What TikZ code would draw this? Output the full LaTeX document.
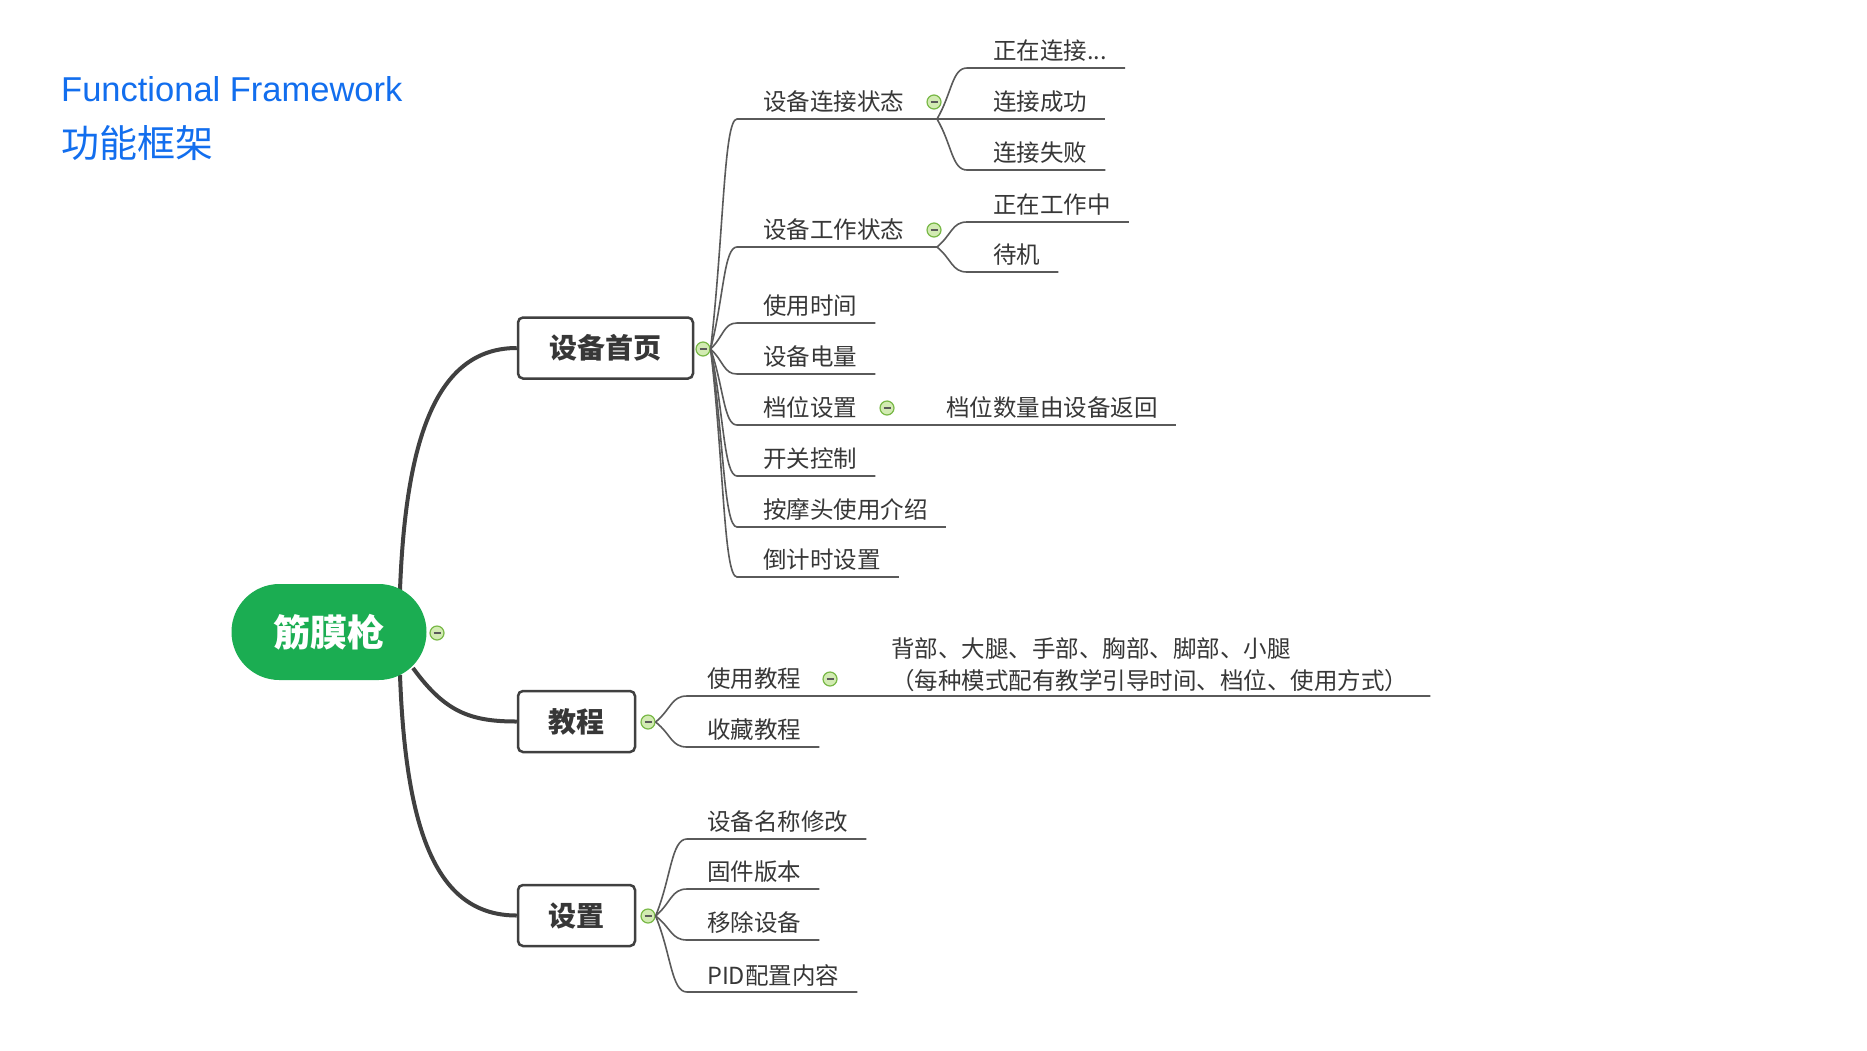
\documentclass[tikz,border=0pt]{standalone}
\usepackage{fontspec}
\setmainfont{Noto Sans CJK SC}
\newfontfamily\latinfont{Liberation Sans}
\usetikzlibrary{calc}
\definecolor{titleblue}{RGB}{18,110,238}
\definecolor{rootgreen}{RGB}{27,173,82}
\definecolor{txt}{RGB}{55,55,55}
\definecolor{boxline}{RGB}{64,64,64}
\definecolor{lnk}{RGB}{90,90,90}
\definecolor{cfill}{RGB}{210,235,178}
\definecolor{cdraw}{RGB}{120,184,70}
\tikzset{
  rootnode/.style={rectangle, rounded corners=47.9pt, fill=rootgreen, minimum width=195pt, minimum height=96pt, inner sep=0pt, text=white, font=\fontsize{37}{42}\selectfont\bfseries},
  topic/.style={rectangle, draw=boxline, line width=2.5pt, rounded corners=5pt, fill=white, minimum height=61pt, inner sep=0pt, text=txt, font=\fontsize{28}{32}\selectfont\bfseries},
  leaf/.style={anchor=west, inner sep=0pt, text=txt, font=\fontsize{23.5}{28}\selectfont},
  note/.style={anchor=west, inner sep=0pt, text=txt, align=left, font=\fontsize{23.5}{32}\selectfont},
  uline/.style={draw=lnk, line width=1.6pt},
  trunk/.style={draw=boxline, line width=4pt},
  branch/.style={to path={let \p1=(\tikztostart), \p2=(\tikztotarget) in .. controls ({0.5*\x1+0.5*\x2},{0.5*\y1+0.5*\y2}) and ({0.5*\x1+0.5*\x2},\y2) .. (\tikztotarget)}},
  fold/.style={circle, draw=cdraw, fill=cfill, line width=1.2pt, minimum size=14pt, inner sep=0pt,
    path picture={\draw[draw=lnk, line width=1.3pt] ([xshift=-3.5pt]path picture bounding box.center) -- ([xshift=3.5pt]path picture bounding box.center);}},
}
\begin{document}
\begin{tikzpicture}[x=1pt,y=-1pt]
\fill[white] (0,0) rectangle (1867,1050);
\useasboundingbox (0,0) rectangle (1867,1050);

% title
\node[anchor=base west, inner sep=0pt, text=titleblue, font=\latinfont\fontsize{34.5}{40}\selectfont] (ten) at (61,101) {Functional Framework};
\node[anchor=west, inner sep=0pt, text=titleblue, font=\fontsize{38}{44}\selectfont] (tcn) at (61,143) {功能框架};

% main topics
\coordinate (r1) at (400,590);
\coordinate (r2) at (413,668);
\coordinate (r3) at (400,675);
\node[topic, minimum width=175pt] (home) at (605.5,348) {设备首页};
\node[topic, minimum width=117pt] (tut) at (576.5,721.5) {教程};
\node[topic, minimum width=117pt] (set) at (576.5,915.5) {设置};
\draw[trunk] (r1) .. controls (406,430) and (440,348) .. (home.west);
\draw[trunk] (r2) .. controls (445,712) and (470,721.5) .. (tut.west);
\draw[trunk] (r3) .. controls (406,840) and (440,915.5) .. (set.west);
\node[rootnode] (root) at (329,632) {筋膜枪};

% fold markers
\node[fold] (f0) at (437,633) {};
\node[fold] (f1) at (703,349) {};
\node[fold] (f2) at (648,722) {};
\node[fold] (f3) at (648,916) {};
\node[fold] (f4) at (934,102) {};
\node[fold] (f5) at (934,230) {};
\node[fold] (f6) at (887,408) {};
\node[fold] (f7) at (830,679) {};

% ---- 设备首页 children
\node[leaf] (n1) at (763,102) {设备连接状态};
\coordinate (u1) at (737,119);
\coordinate (b3) at (937,119);
\draw[uline] (f1.east) to[branch] (u1) -- (b3);
\node[leaf] (m1) at (993,51) {正在连接...};
\node[leaf] (m2) at (993,102) {连接成功};
\node[leaf] (m3) at (993,153) {连接失败};
\coordinate (v1) at (967,68);
\coordinate (v3) at (967,170);
\draw[uline] (b3) to[branch] (v1) -- (v1 -| m1.east) -- ++(18,0);
\draw[uline] (b3) -- (b3 -| m2.east) -- ++(18,0);
\draw[uline] (b3) to[branch] (v3) -- (v3 -| m3.east) -- ++(18,0);

\node[leaf] (n2) at (763,230) {设备工作状态};
\coordinate (u2) at (737,247);
\coordinate (b4) at (937,247);
\draw[uline] (f1.east) to[branch] (u2) -- (b4);
\node[leaf] (m4) at (993,205) {正在工作中};
\node[leaf] (m5) at (993,255) {待机};
\coordinate (v4) at (967,222);
\coordinate (v5) at (967,272);
\draw[uline] (b4) to[branch] (v4) -- (v4 -| m4.east) -- ++(18,0);
\draw[uline] (b4) to[branch] (v5) -- (v5 -| m5.east) -- ++(18,0);

\node[leaf] (n3) at (763,306) {使用时间};
\coordinate (u3) at (737,323);
\draw[uline] (f1.east) to[branch] (u3) -- (u3 -| n3.east) -- ++(18,0);

\node[leaf] (n4) at (763,357) {设备电量};
\coordinate (u4) at (737,374);
\draw[uline] (f1.east) to[branch] (u4) -- (u4 -| n4.east) -- ++(18,0);

\node[leaf] (n5) at (763,408) {档位设置};
\node[leaf] (k1) at (946,408) {档位数量由设备返回};
\coordinate (u5) at (737,425);
\draw[uline] (f1.east) to[branch] (u5) -- (u5 -| k1.east) -- ++(18,0);

\node[leaf] (n6) at (763,459) {开关控制};
\coordinate (u6) at (737,476);
\draw[uline] (f1.east) to[branch] (u6) -- (u6 -| n6.east) -- ++(18,0);

\node[leaf] (n7) at (763,510) {按摩头使用介绍};
\coordinate (u7) at (737,527);
\draw[uline] (f1.east) to[branch] (u7) -- (u7 -| n7.east) -- ++(18,0);

\node[leaf] (n8) at (763,560) {倒计时设置};
\coordinate (u8) at (737,577);
\draw[uline] (f1.east) to[branch] (u8) -- (u8 -| n8.east) -- ++(18,0);

% ---- 教程 children
\node[leaf] (t1) at (707,679) {使用教程};
\node[note] (tnote) at (891,665) {背部、大腿、手部、胸部、脚部、小腿\\（每种模式配有教学引导时间、档位、使用方式）};
\coordinate (w1) at (687,696);
\draw[uline] (f2.east) to[branch] (w1) -- (w1 -| tnote.east) -- ++(22,0);
\node[leaf] (t2) at (707,730) {收藏教程};
\coordinate (w2) at (687,747);
\draw[uline] (f2.east) to[branch] (w2) -- (w2 -| t2.east) -- ++(18,0);

% ---- 设置 children
\node[leaf] (s1) at (707,822) {设备名称修改};
\node[leaf] (s2) at (707,872) {固件版本};
\node[leaf] (s3) at (707,923) {移除设备};
\node[leaf] (s4) at (707,975) {PID配置内容};
\coordinate (x1) at (687,839);
\coordinate (x2) at (687,889);
\coordinate (x3) at (687,940);
\coordinate (x4) at (687,992);
\draw[uline] (f3.east) to[branch] (x1) -- (x1 -| s1.east) -- ++(18,0);
\draw[uline] (f3.east) to[branch] (x2) -- (x2 -| s2.east) -- ++(18,0);
\draw[uline] (f3.east) to[branch] (x3) -- (x3 -| s3.east) -- ++(18,0);
\draw[uline] (f3.east) to[branch] (x4) -- (x4 -| s4.east) -- ++(18,0);
\end{tikzpicture}
\end{document}
